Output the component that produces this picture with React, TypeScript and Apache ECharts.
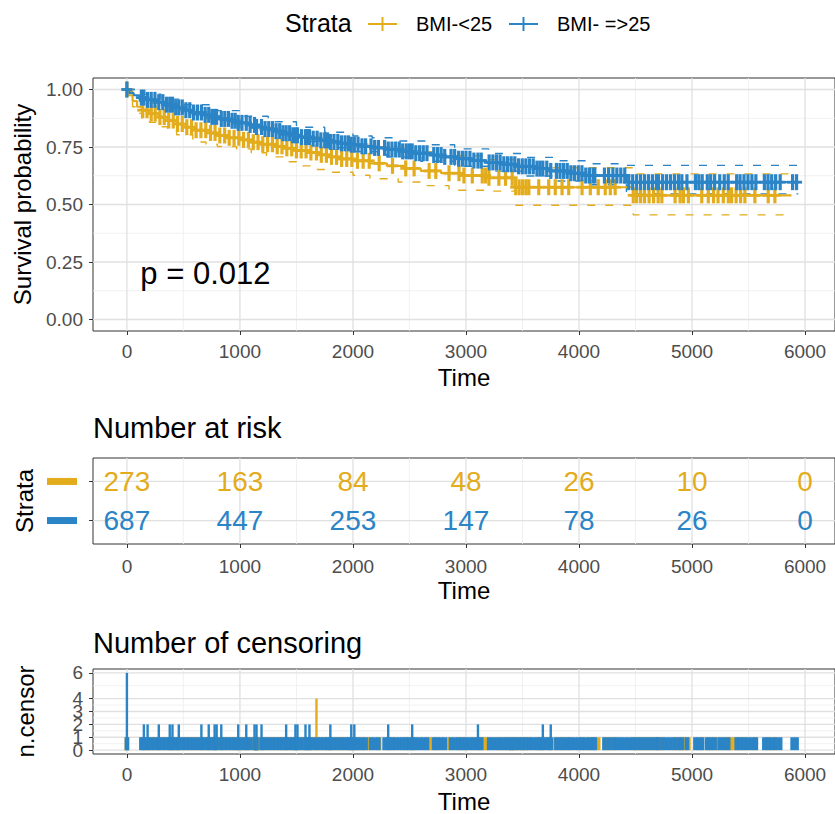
import React, { useEffect, useRef } from 'react';
import * as echarts from 'echarts';

const YELLOW = '#E2AC1C';
const BLUE = '#2A84C6';
const FONT = '"Liberation Sans", Arial, Helvetica, sans-serif';

const strataNames = ['BMI-<25', 'BMI- =>25'];
const timeTicks = [0, 1000, 2000, 3000, 4000, 5000, 6000];
const timeMinor = [500, 1500, 2500, 3500, 4500, 5500];
const survTicks = [0, 0.25, 0.5, 0.75, 1];
const survMinor = [0.125, 0.375, 0.625, 0.875];
const riskRows = [1, 2];
const censorTicks = [0, 1, 2, 3, 4, 6];
const censorMinor = [0.5, 1.5, 2.5, 3.5, 5];

const riskTimes = [0, 1000, 2000, 3000, 4000, 5000, 6000];
const riskYellow = [273, 163, 84, 48, 26, 10, 0];
const riskBlue = [687, 447, 253, 147, 78, 26, 0];

const pValue = { text: 'p = 0.012', time: 119, surv: 0.2 };

// Kaplan-Meier estimates [time, survival after time]
const yellowSurv = [[0,1],[15,0.975],[50,0.95],[90,0.925],[130,0.91],[200,0.895],[280,0.88],[360,0.865],[440,0.85],[520,0.836],[600,0.823],[700,0.811],[800,0.8],[900,0.79],[1000,0.781],[1100,0.771],[1200,0.762],[1300,0.753],[1400,0.744],[1500,0.735],[1600,0.726],[1700,0.716],[1800,0.707],[1900,0.698],[2000,0.69],[2150,0.679],[2300,0.668],[2450,0.657],[2600,0.646],[2780,0.636],[2950,0.626],[3200,0.616],[3440,0.575],[4480,0.54],[5880,0.54]];
const blueSurv = [[0,1],[20,0.985],[60,0.975],[110,0.965],[180,0.955],[260,0.945],[340,0.934],[420,0.922],[500,0.91],[580,0.9],[660,0.89],[740,0.881],[820,0.872],[900,0.864],[980,0.855],[1060,0.846],[1140,0.837],[1220,0.828],[1300,0.819],[1380,0.81],[1460,0.801],[1540,0.793],[1620,0.786],[1700,0.779],[1790,0.772],[1880,0.766],[1970,0.76],[2080,0.753],[2190,0.746],[2310,0.739],[2430,0.731],[2550,0.723],[2680,0.715],[2800,0.707],[2920,0.699],[3050,0.691],[3180,0.683],[3320,0.675],[3460,0.666],[3600,0.656],[3750,0.646],[3900,0.636],[4050,0.626],[4420,0.597],[5940,0.597]];
const yellowUpper = [[0,1],[15,0.992],[90,0.965],[200,0.94],[360,0.915],[520,0.894],[700,0.873],[900,0.854],[1100,0.835],[1300,0.815],[1500,0.796],[1700,0.779],[1900,0.763],[2150,0.75],[2450,0.73],[2780,0.712],[3200,0.695],[3440,0.66],[4480,0.633],[5880,0.633]];
const yellowLower = [[0,1],[15,0.955],[50,0.925],[90,0.897],[130,0.876],[200,0.857],[280,0.838],[360,0.821],[440,0.803],[583,0.772],[700,0.762],[800,0.752],[970,0.742],[1100,0.725],[1235,0.707],[1400,0.686],[1500,0.668],[1650,0.652],[1790,0.64],[2000,0.627],[2150,0.612],[2400,0.598],[2600,0.582],[2850,0.562],[3200,0.558],[3440,0.497],[4480,0.455],[5880,0.455]];
const blueUpper = [[0,1],[110,0.98],[300,0.958],[500,0.934],[750,0.908],[1000,0.884],[1250,0.86],[1500,0.836],[1750,0.814],[2000,0.798],[2170,0.79],[2400,0.776],[2650,0.76],[2900,0.742],[3200,0.722],[3500,0.705],[3800,0.69],[4060,0.677],[4420,0.67],[5940,0.67]];
const blueLower = [[0,1],[110,0.95],[300,0.928],[500,0.89],[750,0.866],[1000,0.832],[1250,0.802],[1500,0.774],[1750,0.747],[2000,0.73],[2300,0.707],[2600,0.688],[2900,0.666],[3200,0.645],[3500,0.624],[3800,0.602],[4060,0.586],[4420,0.546],[5940,0.546]];

// censoring events [time, n.censor]
const yellowCensor = [[0,1],[140,1],[178,1],[215,1],[250,1],[292,1],[330,1],[370,1],[410,1],[448,1],[490,1],[530,1],[572,1],[612,1],[655,1],[698,1],[740,1],[780,1],[822,1],[865,1],[905,1],[948,1],[990,1],[1032,1],[1075,1],[1118,1],[1160,1],[1202,1],[1245,1],[1288,1],[1330,1],[1372,1],[1415,1],[1458,1],[1500,1],[1542,1],[1585,1],[1628,1],[1677,4],[1720,1],[1765,1],[1810,1],[1855,1],[1900,1],[1945,1],[1990,1],[2040,1],[2090,1],[2144,1],[2232,1],[2350,1],[2467,1],[2541,1],[2674,1],[2733,1],[2850,1],[2938,1],[2982,1],[3056,1],[3144,1],[3174,1],[3203,1],[3291,1],[3350,1],[3409,1],[3440,1],[3470,1],[3500,1],[3530,1],[3556,1],[3644,1],[3732,1],[3790,1],[3850,1],[3909,1],[4027,1],[4100,1],[4170,1],[4232,1],[4277,1],[4320,1],[4480,1],[4510,1],[4545,1],[4580,1],[4620,1],[4660,1],[4700,1],[4733,1],[4850,1],[4895,1],[4924,1],[4968,1],[5086,1],[5144,1],[5190,1],[5230,1],[5277,1],[5321,1],[5350,1],[5390,1],[5430,1],[5468,1],[5556,1],[5674,1],[5733,1]];
const blueCensor = [[0,6],[128,1],[150,2],[183,2],[215,1],[248,1],[282,2],[318,1],[350,1],[379,2],[403,2],[432,1],[459,2],[490,1],[522,1],[556,1],[590,1],[624,1],[659,2],[692,1],[724,2],[752,1],[776,2],[794,2],[835,2],[866,1],[898,1],[930,1],[958,1],[985,2],[1018,1],[1056,2],[1090,1],[1129,2],[1147,2],[1191,2],[1222,1],[1255,1],[1288,1],[1320,1],[1352,1],[1381,1],[1409,2],[1440,1],[1468,1],[1491,2],[1509,2],[1545,1],[1580,2],[1598,1],[1615,2],[1648,1],[1683,1],[1716,1],[1750,1],[1775,1],[1800,2],[1832,1],[1866,1],[1898,1],[1930,1],[1960,1],[1985,2],[2012,2],[2045,1],[2080,1],[2112,1],[2160,1],[2192,1],[2225,1],[2280,1],[2312,2],[2345,1],[2378,1],[2410,1],[2440,1],[2472,1],[2500,1],[2524,2],[2556,1],[2590,1],[2622,1],[2655,1],[2715,1],[2748,1],[2780,1],[2812,1],[2868,1],[2900,1],[2935,1],[2968,1],[3000,1],[3035,1],[3070,1],[3106,2],[3135,1],[3205,1],[3238,1],[3270,1],[3302,1],[3335,1],[3368,1],[3400,1],[3432,1],[3465,1],[3498,1],[3530,1],[3562,1],[3595,1],[3628,1],[3655,1],[3680,2],[3715,1],[3750,2],[3800,1],[3832,1],[3864,1],[3896,1],[3928,1],[3960,1],[3994,1],[4026,1],[4060,1],[4092,1],[4125,1],[4140,1],[4225,1],[4262,1],[4300,1],[4335,1],[4370,1],[4405,1],[4440,1],[4475,1],[4510,1],[4545,1],[4580,1],[4615,1],[4650,1],[4685,1],[4703,1],[4740,1],[4775,1],[4810,1],[4845,1],[4880,1],[4910,1],[4955,1],[5030,1],[5060,1],[5090,1],[5135,1],[5165,1],[5200,1],[5245,1],[5285,1],[5320,1],[5395,1],[5425,1],[5460,1],[5495,1],[5530,1],[5565,1],[5640,1],[5672,1],[5705,1],[5740,1],[5780,1],[5890,1],[5925,1]];

const X_MIN = -300;
const X_MAX = 6265;

function survAt(curve: number[][], t: number) {
  let s = curve[0][1];
  for (const p of curve) {
    if (p[0] <= t) s = p[1];
    else break;
  }
  return s;
}

function xAxisFor(gridIndex: number, nameGap: number, margin: number) {
  return {
    type: 'value', gridIndex, min: X_MIN, max: X_MAX,
    name: 'Time', nameLocation: 'middle', nameGap,
    nameTextStyle: { fontSize: 24, color: '#000', fontFamily: FONT },
    axisLine: { show: false, onZero: false },
    axisTick: { show: true, length: 4, customValues: timeTicks, lineStyle: { color: '#333', width: 1 } },
    axisLabel: {
      show: true, customValues: timeTicks, margin, fontSize: 19, color: '#4D4D4D', fontFamily: FONT,
      formatter: (v: number) => String(v), showMinLabel: true, showMaxLabel: true, hideOverlap: false,
    },
    splitLine: { show: false },
  };
}

function gridLines(gi: number, values: number[], vertical: boolean, major: boolean) {
  return {
    type: 'custom', xAxisIndex: gi, yAxisIndex: gi, silent: true, z: 0,
    data: values.map((v) => (vertical ? [v, 0] : [0, v])),
    renderItem: (params: any, api: any) => {
      const cs = params.coordSys;
      const p = api.coord([api.value(0), api.value(1)]);
      const shape = vertical
        ? { x1: p[0], y1: cs.y, x2: p[0], y2: cs.y + cs.height }
        : { x1: cs.x, y1: p[1], x2: cs.x + cs.width, y2: p[1] };
      return { type: 'line', shape, style: { stroke: major ? '#E0E0E0' : '#EDEDED', lineWidth: major ? 1.3 : 0.8 } };
    },
  };
}

function allGridLines(gi: number, yMajor: number[], yMinor: number[]) {
  return [
    gridLines(gi, timeMinor, true, false),
    gridLines(gi, yMinor, false, false),
    gridLines(gi, timeTicks, true, true),
    gridLines(gi, yMajor, false, true),
  ];
}

function stepLine(data: number[][], color: string, dashed: boolean, z: number) {
  return {
    type: 'line', xAxisIndex: 0, yAxisIndex: 0, step: 'end', data, z,
    showSymbol: false, symbol: 'none', silent: true,
    lineStyle: { color, width: dashed ? 1.4 : 2.2, type: dashed ? [8, 10] : 'solid' },
  };
}

function censorMarks(curve: number[][], censor: number[][], color: string, z: number) {
  return {
    type: 'custom', xAxisIndex: 0, yAxisIndex: 0, silent: true, z,
    data: censor.map((c) => [c[0], survAt(curve, c[0])]),
    renderItem: (_params: any, api: any) => {
      const p = api.coord([api.value(0), api.value(1)]);
      return {
        type: 'group',
        children: [
          { type: 'line', shape: { x1: p[0] - 5.5, y1: p[1], x2: p[0] + 5.5, y2: p[1] }, style: { stroke: color, lineWidth: 2.8 } },
          { type: 'line', shape: { x1: p[0], y1: p[1] - 8, x2: p[0], y2: p[1] + 8 }, style: { stroke: color, lineWidth: 3.2 } },
        ],
      };
    },
  };
}

function censorBars(censor: number[][], color: string, z: number) {
  return {
    type: 'custom', xAxisIndex: 2, yAxisIndex: 2, silent: true, z,
    data: censor,
    renderItem: (_params: any, api: any) => {
      const t = api.value(0);
      const n = api.value(1);
      const b = api.coord([t, 0]);
      const one = api.coord([t, Math.min(n, 1)]);
      const top = api.coord([t, n]);
      const children: any[] = [
        { type: 'rect', shape: { x: b[0] - 2.3, y: one[1], width: 4.6, height: b[1] - one[1] }, style: { fill: color } },
      ];
      if (n > 1) {
        children.push({ type: 'rect', shape: { x: b[0] - 1.2, y: top[1], width: 2.4, height: b[1] - top[1] }, style: { fill: color } });
      }
      return { type: 'group', children };
    },
  };
}

function riskText(values: number[], row: number, color: string) {
  return {
    type: 'custom', xAxisIndex: 1, yAxisIndex: 1, silent: true, z: 5,
    data: riskTimes.map((t, i) => [t, row, values[i]]),
    renderItem: (_params: any, api: any) => {
      const p = api.coord([api.value(0), api.value(1)]);
      return {
        type: 'text', x: p[0], y: p[1],
        style: { text: String(api.value(2)), fill: color, fontSize: 28, fontFamily: FONT, align: 'center', verticalAlign: 'middle' },
      };
    },
  };
}

function legendGraphic() {
  const y = 23;
  const key = (x0: number, color: string) => [
    { type: 'line', shape: { x1: x0, y1: y + 1, x2: x0 + 29, y2: y + 1 }, style: { stroke: color, lineWidth: 2 } },
    { type: 'line', shape: { x1: x0 + 14.5, y1: y - 6, x2: x0 + 14.5, y2: y + 8 }, style: { stroke: color, lineWidth: 2 } },
  ];
  return [
    { type: 'text', x: 285, y, style: { text: 'Strata', fontSize: 25, fill: '#000', fontFamily: FONT, align: 'left', verticalAlign: 'middle' } },
    ...key(368, YELLOW),
    { type: 'text', x: 416, y: y + 1, style: { text: strataNames[0], fontSize: 20, fill: '#000', fontFamily: FONT, align: 'left', verticalAlign: 'middle' } },
    ...key(509, BLUE),
    { type: 'text', x: 557, y: y + 1, style: { text: strataNames[1], fontSize: 20, fill: '#000', fontFamily: FONT, align: 'left', verticalAlign: 'middle' } },
  ];
}

export default function App() {
  const ref = useRef<HTMLDivElement>(null);
  useEffect(() => {
    if (!ref.current) return;
    const chart = echarts.init(ref.current, undefined, { renderer: 'svg' });
    const gridStyle = { show: true, borderColor: '#333', borderWidth: 1, backgroundColor: '#fff' };
    const yBase = {
      type: 'value', nameLocation: 'middle',
      nameTextStyle: { fontSize: 24, color: '#000', fontFamily: FONT },
      axisLine: { show: false, onZero: false },
      splitLine: { show: false },
    };
    const labelBase = { showMinLabel: true, showMaxLabel: true, hideOverlap: false };
    // censor-axis labels split over two overlaid axes so that the tightly packed
    // labels are all drawn (ECharts otherwise drops one that touches the min label)
    const censorLabelsA = censorTicks.filter((v) => v !== 1);
    const censorLabelsB = censorTicks.filter((v) => v === 1);
    const option: any = {
      animation: false,
      backgroundColor: '#fff',
      textStyle: { fontFamily: FONT },
      title: [
        { text: 'Number at risk', left: 93, top: 413, padding: 0, textStyle: { fontSize: 29, fontWeight: 'normal', color: '#000', fontFamily: FONT } },
        { text: 'Number of censoring', left: 93, top: 628, padding: 0, textStyle: { fontSize: 29, fontWeight: 'normal', color: '#000', fontFamily: FONT } },
      ],
      grid: [
        { left: 93, top: 78, width: 744, height: 253, ...gridStyle },
        { left: 93, top: 458, width: 744, height: 86, ...gridStyle },
        { left: 93, top: 669, width: 744, height: 87, ...gridStyle },
      ],
      xAxis: [xAxisFor(0, 34, 11), xAxisFor(1, 34, 13), xAxisFor(2, 35, 11)],
      yAxis: [
        {
          ...yBase, gridIndex: 0, min: -0.05, max: 1.05, name: 'Survival probability', nameGap: 59,
          axisTick: { show: true, length: 4, customValues: survTicks, lineStyle: { color: '#333' } },
          axisLabel: { ...labelBase, customValues: survTicks, formatter: (v: number) => v.toFixed(2), margin: 10, fontSize: 19, color: '#4D4D4D', fontFamily: FONT },
        },
        {
          ...yBase, gridIndex: 1, min: 0.4, max: 2.6, name: 'Strata', nameGap: 57,
          axisTick: { show: true, length: 4, customValues: riskRows, lineStyle: { color: '#333' } },
          axisLabel: {
            ...labelBase, customValues: riskRows, margin: 16,
            formatter: (v: number) => (v === 2 ? '{y| }' : '{b| }'),
            rich: { y: { width: 30, height: 7, backgroundColor: YELLOW }, b: { width: 30, height: 7, backgroundColor: BLUE } },
          },
        },
        {
          ...yBase, gridIndex: 2, min: -0.3, max: 6.3, name: 'n.censor', nameGap: 56,
          axisTick: { show: true, length: 4, customValues: censorTicks, lineStyle: { color: '#333' } },
          axisLabel: { ...labelBase, customValues: censorLabelsA, formatter: (v: number) => String(v), margin: 10, fontSize: 19, color: '#4D4D4D', fontFamily: FONT },
        },
        {
          ...yBase, gridIndex: 2, min: -0.3, max: 6.3, position: 'left', offset: 0,
          axisTick: { show: false },
          axisLabel: { ...labelBase, customValues: censorLabelsB, formatter: (v: number) => String(v), margin: 10, fontSize: 19, color: '#4D4D4D', fontFamily: FONT },
        },
      ],
      graphic: legendGraphic(),
      series: [
        ...allGridLines(0, survTicks, survMinor),
        ...allGridLines(1, riskRows, []),
        ...allGridLines(2, censorTicks, censorMinor),
        stepLine(yellowUpper, YELLOW, true, 2),
        stepLine(yellowLower, YELLOW, true, 2),
        stepLine(blueUpper, BLUE, true, 2),
        stepLine(blueLower, BLUE, true, 2),
        stepLine(yellowSurv, YELLOW, false, 3),
        stepLine(blueSurv, BLUE, false, 3),
        censorMarks(yellowSurv, yellowCensor, YELLOW, 4),
        censorMarks(blueSurv, blueCensor, BLUE, 4),
        {
          type: 'custom', xAxisIndex: 0, yAxisIndex: 0, silent: true, z: 6,
          data: [[pValue.time, pValue.surv]],
          renderItem: (_p: any, api: any) => {
            const p = api.coord([api.value(0), api.value(1)]);
            return { type: 'text', x: p[0], y: p[1], style: { text: pValue.text, fontSize: 31, fill: '#000', fontFamily: FONT, align: 'left', verticalAlign: 'middle' } };
          },
        },
        riskText(riskYellow, 2, YELLOW),
        riskText(riskBlue, 1, BLUE),
        censorBars(yellowCensor, YELLOW, 3),
        censorBars(blueCensor, BLUE, 4),
      ],
    };
    chart.setOption(option);
    return () => chart.dispose();
  }, []);
  return <div ref={ref} style={{ position: 'absolute', left: 0, top: 0, width: 835, height: 814 }} />;
}
